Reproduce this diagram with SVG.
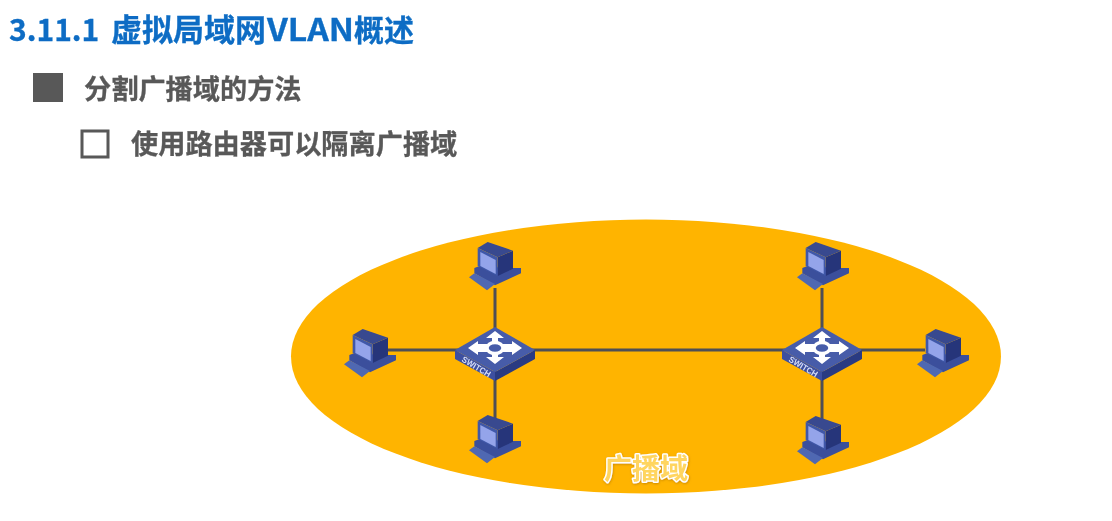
<svg xmlns="http://www.w3.org/2000/svg" width="1112" height="521" viewBox="0 0 1112 521">
<style>
.cjk{font-family:"Noto Sans CJK SC","Noto Sans",sans-serif;font-weight:700}
.body{fill:#595959;font-size:27.2px;stroke:#595959;stroke-width:.3}
.wire{stroke:#4f4f55;stroke-width:3;fill:none}
</style>
<defs>
<filter id="soft" x="-10%" y="-10%" width="120%" height="120%"><feGaussianBlur stdDeviation="0.6"/></filter>
<filter id="softText" x="-5%" y="-20%" width="110%" height="140%"><feGaussianBlur stdDeviation="0.4"/></filter>
<filter id="glow" x="-10%" y="-20%" width="120%" height="140%"><feDropShadow dx="0.5" dy="1" stdDeviation="1" flood-color="#b87a00" flood-opacity=".7"/></filter>
<g id="pc" filter="url(#soft)">
<g transform="scale(.3333) translate(-12,-12)">
<polygon points="28,90 60,78 105,90 168,90 168,106 90,142 28,106" fill="#3b4f9c"/>
<polygon points="12,118 28,106 90,138 66,157" fill="#4f68b2"/>
<polygon points="98,58 144,38 144,92 98,114" fill="#26357a"/>
<polygon points="38,30 68,12 144,38 98,58" fill="#38498f"/>
<polygon points="38,30 98,58 98,114 38,84" fill="#4058a8"/>
<polygon points="46,42 92,66 92,108 46,84" fill="#94a4ea"/>
</g>
</g>
<g id="sw" filter="url(#soft)">
<polygon points="-40,0 0,22 0,31 -40,9" fill="#3d50a0"/>
<polygon points="40,0 0,22 0,31 40,9" fill="#2a3a82"/>
<polygon points="0,-23 40,0 0,22 -40,0" fill="#465ca9"/>
<g fill="#fff">
<polygon points="-27,-2 -17,-9 -17,-6 -6,-6 -6,2 -17,2 -17,5"/>
<polygon points="27,-2 17,-9 17,-6 6,-6 6,2 17,2 17,5"/>
<polygon points="0,-19 -9,-12 -3,-12 -3,-6 3,-6 3,-12 9,-12"/>
<polygon points="0,14 -9,7 -3,7 -3,1 3,1 3,7 9,7"/>
</g>
<ellipse cx="0" cy="-2" rx="8" ry="5.500" fill="#465ca9" stroke="#fff" stroke-width="3.500"/>
<text x="0" y="0" transform="translate(-34,11) rotate(31)" font-family="Liberation Sans,sans-serif" font-size="8.500" font-weight="700" fill="#d5dcf5" textLength="32" lengthAdjust="spacingAndGlyphs">SWITCH</text>
</g>
</defs>
<rect width="1112" height="521" fill="#fff"/>
<ellipse id="broadcast-domain" cx="646" cy="356.500" rx="355" ry="137" fill="#ffb400"/>
<g id="heading" filter="url(#softText)">
<text y="41" class="cjk" font-size="30" fill="#0a6cc4" stroke="#0a6cc4" stroke-width=".3"><tspan x="9">3.11.1</tspan><tspan x="111" font-size="31">虚拟局域网</tspan><tspan x="267" textLength="87" lengthAdjust="spacingAndGlyphs" font-size="31">VLAN</tspan><tspan x="354" font-size="30">概述</tspan></text>
</g>
<g id="bullet-1" filter="url(#softText)">
<rect x="33" y="73" width="30" height="29" fill="#595959"/>
<text x="84" y="99" class="cjk body">分割广播域的方法</text>
</g>
<g id="bullet-2" filter="url(#softText)">
<rect x="82" y="131" width="26" height="26" fill="none" stroke="#595959" stroke-width="3"/>
<text x="131" y="154" class="cjk body">使用路由器可以隔离广播域</text>
</g>
<g id="connectors">
<path class="wire" d="M495 288V330M495 370V420M388 350H460M530 350H785M858 350H925M822 288V330M822 370V420"/>
</g>
<use id="pc-top-left" href="#pc" x="469" y="242"/>
<use id="pc-left" href="#pc" x="344" y="329"/>
<use id="pc-bottom-left" href="#pc" x="469" y="415"/>
<use id="pc-top-right" href="#pc" x="797" y="242"/>
<use id="pc-right" href="#pc" x="917" y="329"/>
<use id="pc-bottom-right" href="#pc" x="797" y="416"/>
<use id="switch-left" href="#sw" x="495" y="350"/>
<use id="switch-right" href="#sw" x="822" y="350"/>
<g id="domain-label" filter="url(#glow)">
<text x="604" y="479" class="cjk" font-size="28" fill="#ffd560" stroke="#fff" stroke-width="3" paint-order="stroke" stroke-linejoin="round">广播域</text>
</g>
</svg>
